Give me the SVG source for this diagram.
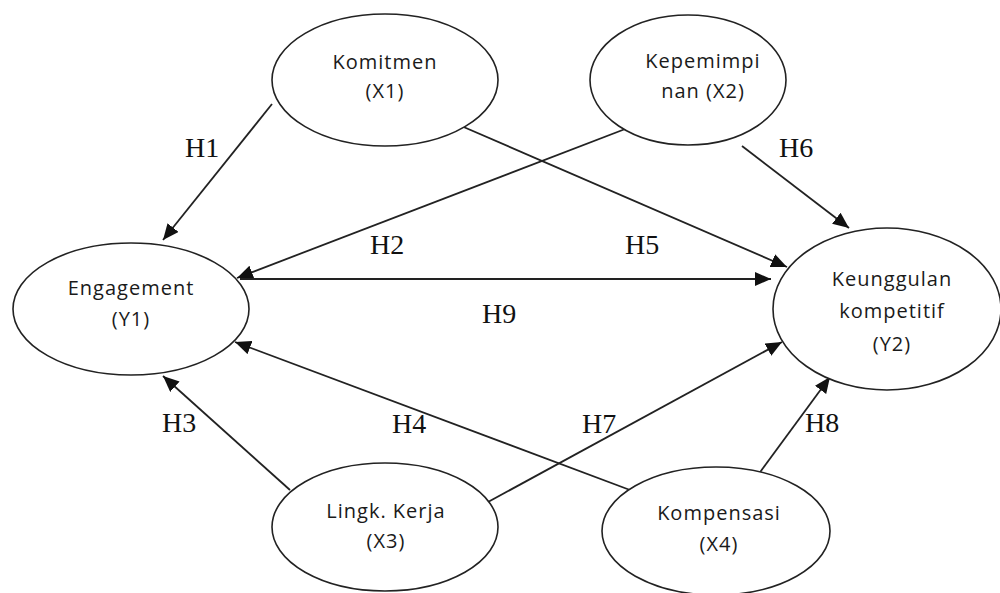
<svg xmlns="http://www.w3.org/2000/svg" width="1000" height="593" viewBox="0 0 1000 593">
<style>
.node ellipse{fill:#fff;stroke:#222;stroke-width:1.6}
.lbl{font-family:"Open Sans","Noto Sans",sans-serif;font-size:20px;letter-spacing:1px;fill:#1a1a1a;text-anchor:middle}
.h{font-family:"Liberation Serif","DejaVu Serif",serif;font-size:28px;fill:#111}
#edges line{stroke:#222;stroke-width:1.8;marker-end:url(#arr)}
</style>
<defs>
<marker id="arr" markerUnits="userSpaceOnUse" markerWidth="18" markerHeight="14" refX="16" refY="7" orient="auto">
<path d="M0,0 L16,7 L0,14 Z" fill="#111"/>
</marker>
</defs>
<rect width="1000" height="593" fill="#fff"/>
<g id="edges">
<line id="e-h1" x1="272" y1="104" x2="163" y2="240"/>
<line id="e-h2" x1="633" y1="126" x2="237" y2="278"/>
<line id="e-h9" x1="240" y1="279" x2="771" y2="279"/>
<line id="e-h5" x1="459" y1="125" x2="787" y2="267"/>
<line id="e-h6" x1="742" y1="146" x2="849" y2="228"/>
<line id="e-h3" x1="290" y1="490" x2="163" y2="376"/>
<line id="e-h4" x1="630" y1="490" x2="235" y2="342"/>
<line id="e-h7" x1="488" y1="502" x2="782" y2="342"/>
<line id="e-h8" x1="758" y1="475" x2="830" y2="377"/>
</g>
<g id="n-x1" class="node">
<ellipse cx="385" cy="80" rx="113" ry="66"/>
<text class="lbl" x="385" y="69">Komitmen</text>
<text class="lbl" x="385" y="98">(X1)</text>
</g>
<g id="n-x2" class="node">
<ellipse cx="688" cy="80" rx="98" ry="65"/>
<text class="lbl" x="703" y="68">Kepemimpi</text>
<text class="lbl" x="703" y="98">nan (X2)</text>
</g>
<g id="n-y1" class="node">
<ellipse cx="131" cy="309" rx="118" ry="66"/>
<text class="lbl" x="131" y="295">Engagement</text>
<text class="lbl" x="131" y="326">(Y1)</text>
</g>
<g id="n-y2" class="node">
<ellipse cx="887" cy="309" rx="114" ry="81"/>
<text class="lbl" x="892" y="286">Keunggulan</text>
<text class="lbl" x="892" y="318">kompetitif</text>
<text class="lbl" x="892" y="351">(Y2)</text>
</g>
<g id="n-x3" class="node">
<ellipse cx="385" cy="527" rx="113" ry="64"/>
<text class="lbl" x="386" y="518">Lingk. Kerja</text>
<text class="lbl" x="386" y="548">(X3)</text>
</g>
<g id="n-x4" class="node">
<ellipse cx="716" cy="531" rx="114" ry="64"/>
<text class="lbl" x="719" y="520">Kompensasi</text>
<text class="lbl" x="719" y="551">(X4)</text>
</g>
<g id="labels">
<text class="h" x="185" y="157">H1</text>
<text class="h" x="370" y="254">H2</text>
<text class="h" x="625" y="254">H5</text>
<text class="h" x="779" y="157">H6</text>
<text class="h" x="482" y="323">H9</text>
<text class="h" x="162" y="432">H3</text>
<text class="h" x="392" y="433">H4</text>
<text class="h" x="582" y="433">H7</text>
<text class="h" x="805" y="432">H8</text>
</g>
</svg>
